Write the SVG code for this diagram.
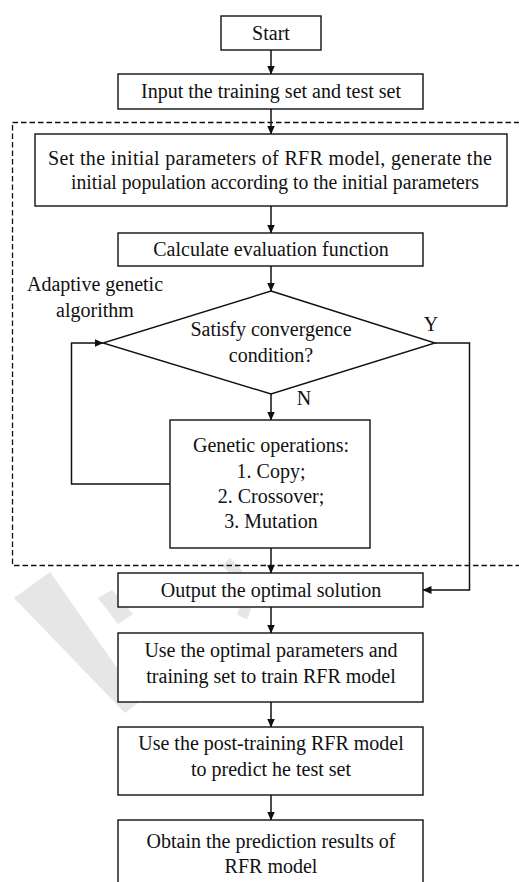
<svg xmlns="http://www.w3.org/2000/svg" width="519" height="882" viewBox="0 0 519 882">
<style>
.box{fill:#fff;stroke:#111;stroke-width:1.4}
.t{font-family:"Liberation Serif","Tinos","Times New Roman","Noto Serif","DejaVu Serif",serif;font-size:20px;fill:#111;text-anchor:middle}
.ln{fill:none;stroke:#111;stroke-width:1.5}
.wm{fill:#e6e6e6;stroke:none}
</style>
<defs>
<marker id="ah" markerUnits="userSpaceOnUse" markerWidth="9" markerHeight="8" refX="8.5" refY="4" orient="auto">
<path d="M0,0 L9,4 L0,8 z" fill="#111"/>
</marker>
</defs>
<rect width="519" height="882" fill="#fff"/>
<g id="watermark">
<polygon class="wm" points="14,598 50,572 140,701 125,713"/>
<polygon class="wm" points="98,598 112,590 133,614 118,624"/>
<path d="M226,562 Q256,588 242,617" fill="none" stroke="#e6e6e6" stroke-width="11"/>
</g>
<rect id="ga-region" x="12.5" y="122.5" width="530" height="443" fill="none" stroke="#111" stroke-width="1.3" stroke-dasharray="5.5,3"/>
<g id="connectors">
<line class="ln" x1="271" y1="50" x2="271" y2="74" marker-end="url(#ah)"/>
<line class="ln" x1="271" y1="109" x2="271" y2="134" marker-end="url(#ah)"/>
<line class="ln" x1="271" y1="206" x2="271" y2="233" marker-end="url(#ah)"/>
<line class="ln" x1="271" y1="266" x2="271" y2="291" marker-end="url(#ah)"/>
<line class="ln" x1="271" y1="394" x2="271" y2="420" marker-end="url(#ah)"/>
<polyline class="ln" points="170,484 71.5,484 71.5,343 103,343" marker-end="url(#ah)"/>
<polyline class="ln" points="435,343 469.5,343 469.5,590 423,590" marker-end="url(#ah)"/>
<line class="ln" x1="271" y1="548" x2="271" y2="573" marker-end="url(#ah)"/>
<line class="ln" x1="271" y1="607" x2="271" y2="633" marker-end="url(#ah)"/>
<line class="ln" x1="271" y1="702" x2="271" y2="727" marker-end="url(#ah)"/>
<line class="ln" x1="271" y1="795" x2="271" y2="820" marker-end="url(#ah)"/>
</g>
<g id="start">
<rect class="box" x="221" y="16" width="100" height="34"/>
<text class="t" x="271" y="39.5">Start</text>
</g>
<g id="input">
<rect class="box" x="118" y="74" width="305" height="35"/>
<text class="t" x="271" y="98">Input the training set and test set</text>
</g>
<g id="init">
<rect class="box" x="35" y="134" width="472" height="72"/>
<text class="t" x="270" y="165" textLength="444" lengthAdjust="spacing">Set the initial parameters of RFR model, generate the</text>
<text class="t" x="275" y="189" textLength="408" lengthAdjust="spacingAndGlyphs">initial population according to the initial parameters</text>
</g>
<g id="evaluate">
<rect class="box" x="118" y="233" width="305" height="33"/>
<text class="t" x="271" y="256">Calculate evaluation function</text>
</g>
<g id="ga-label">
<text class="t" x="95" y="291">Adaptive genetic</text>
<text class="t" x="95" y="317">algorithm</text>
</g>
<g id="converge">
<polygon class="box" points="271,291 435,343 271,394 103,343"/>
<text class="t" x="271" y="336">Satisfy convergence</text>
<text class="t" x="271" y="362">condition?</text>
<text class="t" x="431" y="331">Y</text>
<text class="t" x="304" y="405">N</text>
</g>
<g id="genetic">
<rect class="box" x="170" y="420" width="200" height="128"/>
<text class="t" x="271" y="452">Genetic operations:</text>
<text class="t" x="271" y="478">1. Copy;</text>
<text class="t" x="271" y="503">2. Crossover;</text>
<text class="t" x="271" y="528">3. Mutation</text>
</g>
<g id="output">
<rect class="box" x="118" y="573" width="305" height="34"/>
<text class="t" x="271" y="597">Output the optimal solution</text>
</g>
<g id="train">
<rect class="box" x="118" y="633" width="305" height="69"/>
<text class="t" x="271" y="657">Use the optimal parameters and</text>
<text class="t" x="271" y="683">training set to train RFR model</text>
</g>
<g id="predict">
<rect class="box" x="118" y="727" width="305" height="68"/>
<text class="t" x="271" y="750">Use the post-training RFR model</text>
<text class="t" x="271" y="776">to predict he test set</text>
</g>
<g id="results">
<rect class="box" x="118" y="820" width="305" height="70"/>
<text class="t" x="271" y="848">Obtain the prediction results of</text>
<text class="t" x="271" y="873">RFR model</text>
</g>
</svg>
